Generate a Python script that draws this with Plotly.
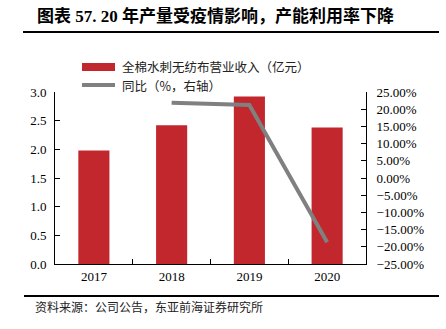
import plotly.graph_objects as go

# Data
years = ["2017", "2018", "2019", "2020"]
revenue = [1.98, 2.42, 2.92, 2.38]          # 全棉水刺无纺布营业收入（亿元）
yoy_years = ["2018", "2019", "2020"]
yoy = [21.9, 21.2, -18.7]                    # 同比（%）

title_text = "图表 57. 20 年产量受疫情影响，产能利用率下降"
bar_name = "全棉水刺无纺布营业收入（亿元）"
line_name = "同比（%，右轴）"
source_text = "资料来源：公司公告，东亚前海证券研究所"

FONT = "Liberation Serif, Noto Sans CJK SC, serif"
CJK = "Noto Sans CJK SC, sans-serif"
BAR_COLOR = "#C1272D"
LINE_COLOR = "#808080"

W, H = 446, 329
L, R, T, B = 55, 80, 92, 65
PW, PH = W - L - R, H - T - B


def px(x):
    return (x - L) / PW


def py(y):
    return (H - B - y) / PH


fig = go.Figure()
fig.add_trace(go.Bar(
    x=years, y=revenue, name=bar_name,
    marker=dict(color=BAR_COLOR, line=dict(width=0)),
    width=0.4, showlegend=False,
))
fig.add_trace(go.Scatter(
    x=yoy_years, y=yoy, name=line_name, yaxis="y2",
    mode="lines", line=dict(color=LINE_COLOR, width=4),
    showlegend=False,
))

shapes = [
    # title underline and footer rule
    dict(type="line", xref="paper", yref="paper", x0=px(23), x1=px(439),
         y0=py(32), y1=py(32), line=dict(color="black", width=2)),
    dict(type="line", xref="paper", yref="paper", x0=px(24), x1=px(439),
         y0=py(296), y1=py(296), line=dict(color="black", width=2)),
    # legend keys
    dict(type="rect", xref="paper", yref="paper", x0=px(82), x1=px(115),
         y0=py(71), y1=py(63), fillcolor=BAR_COLOR, line=dict(width=0)),
    dict(type="line", xref="paper", yref="paper", x0=px(82), x1=px(115),
         y0=py(85), y1=py(85), line=dict(color=LINE_COLOR, width=4)),
]

annotations = [
    dict(text=f"<b>{title_text}</b>", xref="paper", yref="paper",
         x=px(35), y=py(16), xanchor="left", yanchor="middle",
         showarrow=False, font=dict(family=FONT, size=17, color="black")),
    dict(text=bar_name, xref="paper", yref="paper",
         x=px(120), y=py(66), xanchor="left", yanchor="middle",
         showarrow=False, font=dict(family=CJK, size=12.5, color="#222")),
    dict(text=line_name, xref="paper", yref="paper",
         x=px(120), y=py(85.5), xanchor="left", yanchor="middle",
         showarrow=False, font=dict(family=CJK, size=12.5, color="#222")),
    dict(text=source_text, xref="paper", yref="paper",
         x=px(33), y=py(306), xanchor="left", yanchor="middle",
         showarrow=False, font=dict(family=CJK, size=12, color="#222")),
]

fig.update_layout(
    width=W, height=H,
    margin=dict(l=L, r=R, t=T, b=B),
    paper_bgcolor="white", plot_bgcolor="white",
    font=dict(family=FONT, size=13, color="black"),
    bargap=0.6,
    xaxis=dict(
        type="category", showline=True, linecolor="black", linewidth=1,
        ticks="inside", tickson="boundaries", ticklen=5, tickcolor="black",
        showgrid=False, tickfont=dict(family=FONT, size=13),
    ),
    yaxis=dict(
        range=[0, 3], dtick=0.5, tickformat=".1f",
        showline=True, linecolor="black", linewidth=1,
        ticks="inside", ticklen=5, tickcolor="black",
        showgrid=False, zeroline=False,
        tickfont=dict(family=FONT, size=13), ticklabelstandoff=5,
    ),
    yaxis2=dict(
        overlaying="y", side="right",
        range=[-25, 25], dtick=5, tickformat=".2f", ticksuffix="%",
        showline=True, linecolor="black", linewidth=1,
        ticks="inside", ticklen=5, tickcolor="black",
        showgrid=False, zeroline=False,
        tickfont=dict(family=FONT, size=13), ticklabelstandoff=7,
    ),
    shapes=shapes,
    annotations=annotations,
)

fig.write_html("out.html")
